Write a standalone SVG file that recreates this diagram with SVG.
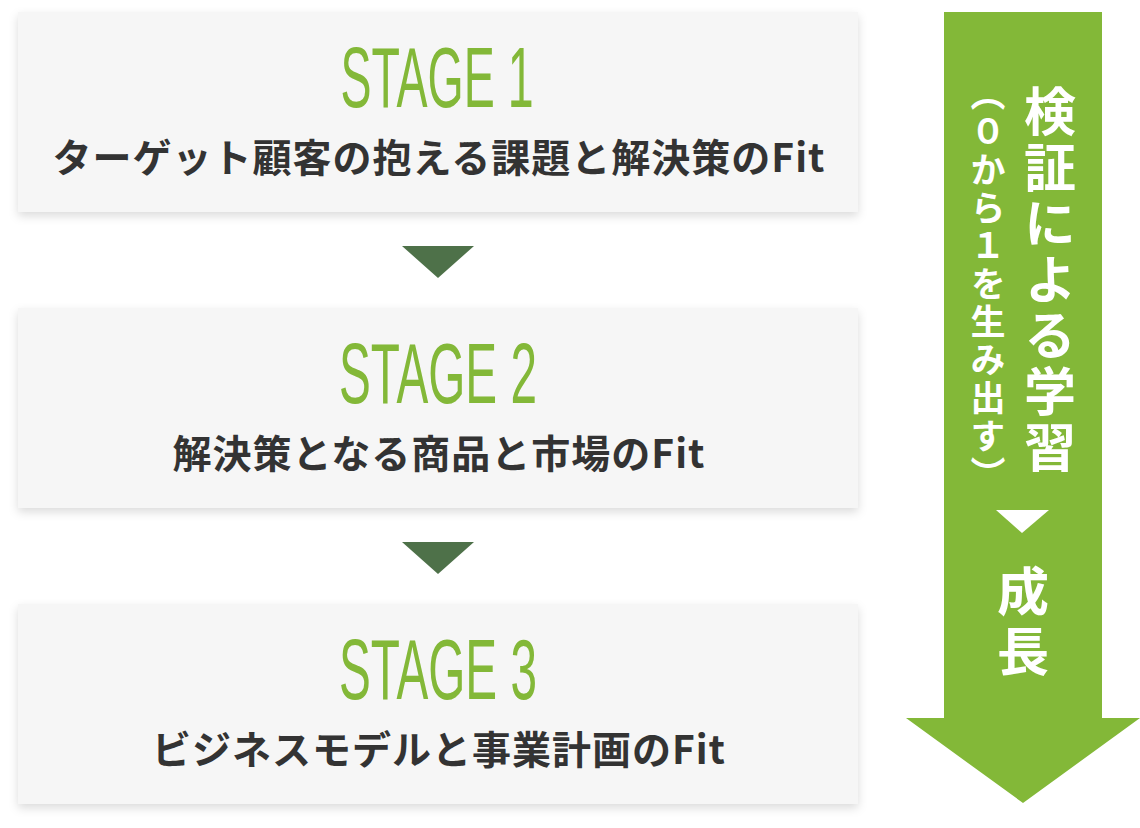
<svg xmlns="http://www.w3.org/2000/svg" width="1140" height="828" viewBox="0 0 1140 828">
<defs>
<filter id="sh" x="-5%" y="-10%" width="110%" height="130%">
<feDropShadow dx="0" dy="4" stdDeviation="5" flood-color="#000" flood-opacity="0.14"/>
</filter>
<style>
.box{fill:#f6f6f6;filter:url(#sh)}
.title{font-family:"Liberation Sans",Arial,sans-serif;font-size:86px;fill:#83b838;text-anchor:middle}
.sub{font-family:"Noto Sans CJK JP","Noto Sans",sans-serif;font-weight:700;font-size:39px;fill:#333;text-anchor:middle;letter-spacing:1px}
.tri{fill:#4e7149}
.vt{font-family:"Noto Sans CJK JP",sans-serif;font-weight:700;fill:#fff;writing-mode:vertical-rl;text-anchor:start}
</style>
</defs>
<g id="stage1">
<rect class="box" x="18" y="12" width="840" height="200"/>
<text class="title" x="437" y="107" textLength="193" lengthAdjust="spacingAndGlyphs">STAGE 1</text>
<text class="sub" x="439" y="172">ターゲット顧客の抱える課題と解決策のFit</text>
</g>
<g id="stage2">
<rect class="box" x="18" y="308" width="840" height="200"/>
<text class="title" x="438" y="403" textLength="198" lengthAdjust="spacingAndGlyphs">STAGE 2</text>
<text class="sub" x="439" y="468">解決策となる商品と市場のFit</text>
</g>
<g id="stage3">
<rect class="box" x="18" y="604" width="840" height="200"/>
<text class="title" x="438" y="699" textLength="198" lengthAdjust="spacingAndGlyphs">STAGE 3</text>
<text class="sub" x="439" y="764">ビジネスモデルと事業計画のFit</text>
</g>
<g id="connectors">
<polygon class="tri" points="402,246 474,246 438,278"/>
<polygon class="tri" points="402,542 474,542 438,574"/>
</g>
<g id="growth-arrow">
<polygon fill="#83b838" points="944,12 1102,12 1102,718 1140,718 1023,803 906,718 944,718"/>
<text class="vt" x="1050" y="85" font-size="52" letter-spacing="4">検証による学習</text>
<text class="vt" x="988" y="76" font-size="35" letter-spacing="3">（０から１を生み出す）</text>
<polygon fill="#fff" points="996,510 1049,510 1022,533"/>
<text class="vt" x="1023" y="565" font-size="52" letter-spacing="8">成長</text>
</g>
</svg>
